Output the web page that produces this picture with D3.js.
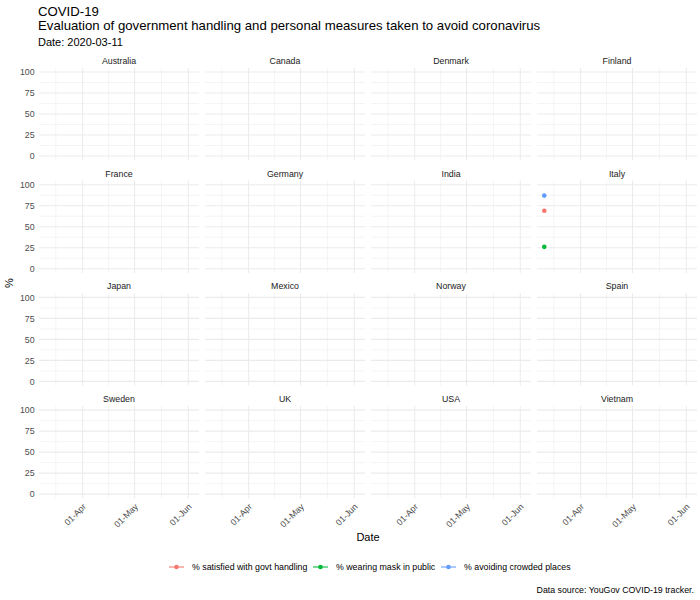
<!DOCTYPE html>
<html>
<head>
<meta charset="utf-8">
<script src="https://cdn.jsdelivr.net/npm/d3@7"></script>
<style>
  body { margin: 0; background: #fff; }
  text { font-family: "Liberation Sans", Arial, sans-serif; }
</style>
</head>
<body>
<div class="chart"></div>
<script>
// data
const countries = ["Australia", "Canada", "Denmark", "Finland",
  "France", "Germany", "India", "Italy",
  "Japan", "Mexico", "Norway", "Spain",
  "Sweden", "UK", "USA", "Vietnam"];
const seriesNames = ["% satisfied with govt handling", "% wearing mask in public", "% avoiding crowded places"];
const seriesColors = ["#F8766D", "#00BA38", "#619CFF"];
const currentDate = "2020-03-11";
const dateRange = ["2020-03-11", "2020-06-03"];
const pointCountries = ["Italy", "Italy", "Italy"];
const pointValues = [69, 26, 87];
const yTicks = [0, 25, 50, 75, 100];
const yMinor = [12.5, 37.5, 62.5, 87.5];
const xTicks = ["2020-04-01", "2020-05-01", "2020-06-01"];
const xMinor = ["2020-03-16T12:00", "2020-04-16", "2020-05-16T12:00"];

const width = 700, height = 600;
const left = 39, panelW = 160, gapX = 6;
const top0 = 67.8, rowStep = 112.7, panelH = 92.4;
const parse = d => new Date(d);

const svg = d3.select(".chart").append("svg")
  .attr("width", width)
  .attr("height", height);

// scales, with ggplot style 5% padding
const d0 = parse(dateRange[0]), d1 = parse(dateRange[1]);
const pad = (d1 - d0) * 0.05;
const x = d3.scaleTime()
  .domain([new Date(+d0 - pad), new Date(+d1 + pad)])
  .range([0, panelW]);
const y = d3.scaleLinear()
  .domain([-5, 105])
  .range([panelH, 0]);

// titles
svg.append("text").attr("x", 38).attr("y", 16).attr("font-size", 13.2).attr("fill", "#000").text("COVID-19");
svg.append("text").attr("x", 38).attr("y", 30).attr("font-size", 13.2).attr("fill", "#000")
  .text("Evaluation of government handling and personal measures taken to avoid coronavirus");
svg.append("text").attr("x", 38).attr("y", 46).attr("font-size", 11).attr("fill", "#000").text("Date: " + currentDate);

countries.forEach((c, i) => {
  const col = i % 4, row = Math.floor(i / 4);
  const g = svg.append("g")
    .attr("transform", `translate(${left + col * (panelW + gapX)},${top0 + row * rowStep})`);

  // strip label
  g.append("text")
    .attr("x", panelW / 2).attr("y", -4)
    .attr("text-anchor", "middle")
    .attr("font-size", 8.8).attr("fill", "#1a1a1a")
    .text(c);

  // grid
  g.selectAll(".ymin").data(yMinor).join("line")
    .attr("x1", 0).attr("x2", panelW)
    .attr("y1", d => y(d)).attr("y2", d => y(d))
    .attr("stroke", "#ebebeb").attr("stroke-width", 0.55);
  g.selectAll(".xmin").data(xMinor).join("line")
    .attr("x1", d => x(parse(d))).attr("x2", d => x(parse(d)))
    .attr("y1", 0).attr("y2", panelH)
    .attr("stroke", "#ebebeb").attr("stroke-width", 0.55);
  g.selectAll(".ymaj").data(yTicks).join("line")
    .attr("x1", 0).attr("x2", panelW)
    .attr("y1", d => y(d)).attr("y2", d => y(d))
    .attr("stroke", "#ebebeb").attr("stroke-width", 1.07);
  g.selectAll(".xmaj").data(xTicks).join("line")
    .attr("x1", d => x(parse(d))).attr("x2", d => x(parse(d)))
    .attr("y1", 0).attr("y2", panelH)
    .attr("stroke", "#ebebeb").attr("stroke-width", 1.07);

  // y axis on first column
  if (col === 0) {
    const ya = g.append("g")
      .call(d3.axisLeft(y).tickValues(yTicks).tickSize(0).tickPadding(4.4));
    ya.select(".domain").remove();
    ya.selectAll("text").attr("font-size", 8.8).attr("fill", "#4d4d4d")
      .attr("font-family", "Liberation Sans, Arial, sans-serif");
  }

  // x axis on bottom row
  if (row === 3) {
    const xa = g.append("g")
      .attr("transform", `translate(0,${panelH})`)
      .call(d3.axisBottom(x).tickValues(xTicks.map(parse)).tickSize(0)
        .tickFormat(d3.timeFormat("%d-%b")));
    xa.select(".domain").remove();
    xa.selectAll("text")
      .attr("font-size", 8.8).attr("fill", "#4d4d4d")
      .attr("font-family", "Liberation Sans, Arial, sans-serif")
      .attr("text-anchor", "end")
      .attr("dy", null).attr("y", 0)
      .attr("transform", "translate(3.5,9) rotate(-45)");
  }

  // points for this country
  const pts = pointValues.map((v, k) => ({ v, k, c: pointCountries[k] })).filter(p => p.c === c);
  g.selectAll("circle").data(pts).join("circle")
    .attr("cx", () => x(parse(currentDate)))
    .attr("cy", d => y(d.v))
    .attr("r", 2.3)
    .attr("fill", d => seriesColors[d.k]);
});

// axis titles
svg.append("text").attr("x", left + (4 * panelW + 3 * gapX) / 2).attr("y", 541)
  .attr("text-anchor", "middle").attr("font-size", 11).attr("fill", "#000").text("Date");
svg.append("text").attr("transform", `translate(13,${top0 + (3 * rowStep + panelH) / 2}) rotate(-90)`)
  .attr("text-anchor", "middle").attr("font-size", 11).attr("fill", "#000").text("%");

// legend, key centres
const legendX = [176.5, 320.5, 448.5];
const lg = svg.append("g").attr("transform", "translate(0,567)");
seriesNames.forEach((s, k) => {
  const item = lg.append("g").attr("transform", `translate(${legendX[k]},0)`);
  item.append("line").attr("x1", -7.5).attr("x2", 7.5).attr("y1", 0).attr("y2", 0)
    .attr("stroke", seriesColors[k]).attr("stroke-width", 1.07);
  item.append("circle").attr("cx", 0).attr("cy", 0).attr("r", 2.3).attr("fill", seriesColors[k]);
  item.append("text").attr("x", 15.5).attr("y", 3.3).attr("font-size", 8.8).attr("fill", "#000").text(s);
});

// caption
svg.append("text").attr("x", 694).attr("y", 593).attr("text-anchor", "end")
  .attr("font-size", 8.8).attr("fill", "#000").text("Data source: YouGov COVID-19 tracker.");
</script>
</body>
</html>
